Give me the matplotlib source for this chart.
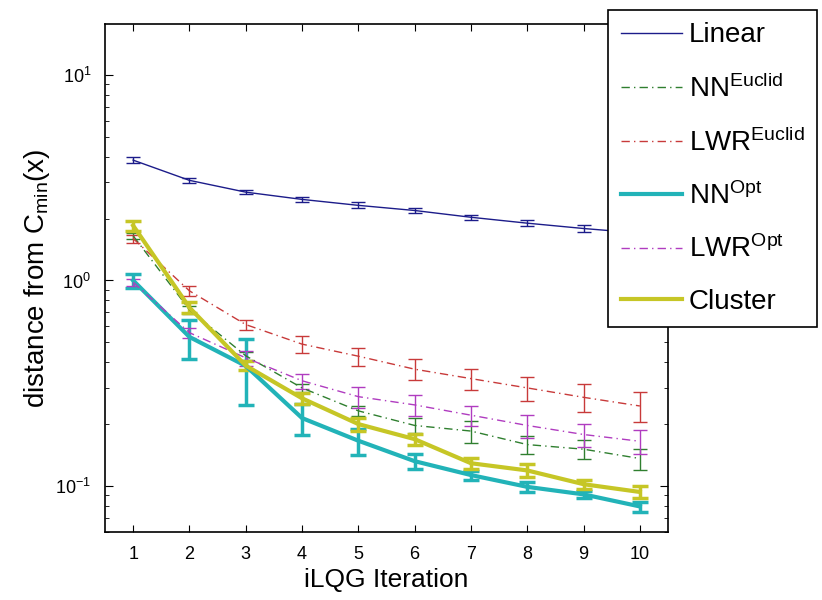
import matplotlib
matplotlib.use("Agg")
import matplotlib.pyplot as plt
import numpy as np

plt.rcParams['font.family'] = ['Liberation Sans', 'DejaVu Sans']
plt.rcParams['mathtext.fontset'] = 'custom'
plt.rcParams['mathtext.rm'] = 'Liberation Sans'
plt.rcParams['mathtext.it'] = 'Liberation Sans:italic'
plt.rcParams['mathtext.bf'] = 'Liberation Sans:bold'

iterations = [1, 2, 3, 4, 5, 6, 7, 8, 9, 10]

linear = [3.85, 3.07, 2.69, 2.48, 2.32, 2.19, 2.03, 1.90, 1.79, 1.70]
linear_err = [0.12, 0.09, 0.07, 0.07, 0.08, 0.07, 0.06, 0.06, 0.07, 0.06]

nn_euclid = [1.65, 0.72, 0.43, 0.30, 0.232, 0.197, 0.185, 0.159, 0.151, 0.136]
nn_euclid_err = [0.05, 0.03, 0.02, 0.015, 0.012, 0.016, 0.023, 0.016, 0.016, 0.016]

lwr_euclid = [1.60, 0.89, 0.61, 0.49, 0.428, 0.37, 0.333, 0.30, 0.27, 0.245]
lwr_euclid_err = [0.07, 0.05, 0.035, 0.045, 0.043, 0.044, 0.039, 0.04, 0.042, 0.04]

nn_opt = [1.00, 0.531, 0.384, 0.214, 0.166, 0.132, 0.113, 0.099, 0.091, 0.0795]
nn_opt_err = [0.08, 0.114, 0.136, 0.037, 0.024, 0.011, 0.0055, 0.006, 0.004, 0.0045]

lwr_opt = [0.98, 0.557, 0.42, 0.325, 0.272, 0.248, 0.221, 0.197, 0.178, 0.165]
lwr_opt_err = [0.04, 0.03, 0.035, 0.027, 0.032, 0.028, 0.025, 0.025, 0.023, 0.022]

cluster = [1.85, 0.738, 0.385, 0.267, 0.20, 0.169, 0.129, 0.119, 0.102, 0.0935]
cluster_err = [0.1, 0.045, 0.02, 0.017, 0.015, 0.01, 0.0075, 0.009, 0.005, 0.0065]

labels = ['Linear', r'NN$^{\mathrm{Euclid}}$', r'LWR$^{\mathrm{Euclid}}$',
          r'NN$^{\mathrm{Opt}}$', r'LWR$^{\mathrm{Opt}}$', 'Cluster']

fig = plt.figure(figsize=(8.22, 6.0), dpi=100)
ax = fig.add_axes([105/822, 1-532/600, (668-105)/822, (532-24)/600])

series = [
    (linear, linear_err, '#1c1c8a', '-', 1.0, 5, 1.0),
    (nn_euclid, nn_euclid_err, '#2f7f2f', (0, (6, 3, 1, 3)), 1.0, 5, 1.0),
    (lwr_euclid, lwr_euclid_err, '#c83a3a', (0, (6, 3, 1, 3)), 1.0, 5, 1.0),
    (nn_opt, nn_opt_err, '#22b3b8', '-', 3.0, 6, 2.5),
    (lwr_opt, lwr_opt_err, '#b03cc0', (0, (6, 3, 1, 3)), 1.0, 5, 1.0),
    (cluster, cluster_err, '#c6c626', '-', 3.0, 6, 2.5),
]

handles = []
for (vals, errs, col, ls, lw, cs, ew), lab in zip(series, labels):
    eb = ax.errorbar(iterations, vals, yerr=errs, color=col, linestyle=ls,
                     linewidth=lw, capsize=cs, elinewidth=ew, capthick=ew,
                     label=lab)
    handles.append(eb.lines[0])

ax.set_yscale('log')
ax.set_xlim(0.5, 10.5)
ax.set_ylim(0.0597, 17.7)
ax.set_xticks(iterations)
ax.tick_params(axis='both', which='both', direction='in', top=True, right=True)
ax.tick_params(axis='both', which='major', length=6, labelsize=13, pad=10)
ax.tick_params(axis='y', which='minor', length=3)
ax.tick_params(axis='x', which='major', top=True, length=5)
for t in ax.get_xticklabels() + ax.get_yticklabels():
    t.set_family(['Liberation Sans Narrow', 'Liberation Sans', 'DejaVu Sans'])

ax.set_xlabel('iLQG Iteration', fontsize=19, labelpad=4)
ax.set_ylabel(r'distance from C$_{\mathrm{min}}$(x)', fontsize=20, labelpad=2)

for sp in ax.spines.values():
    sp.set_linewidth(1.2)

leg = fig.legend(handles, labels, loc='upper left',
                 bbox_to_anchor=(608/822, 1-10/600), fontsize=20,
                 frameon=True, fancybox=False, framealpha=1, edgecolor='black',
                 handlelength=2.2, labelspacing=0.92, borderpad=0.45,
                 handletextpad=0.25, borderaxespad=0.0)
leg.get_frame().set_linewidth(1.2)

fig.savefig('out.png', dpi=100)
